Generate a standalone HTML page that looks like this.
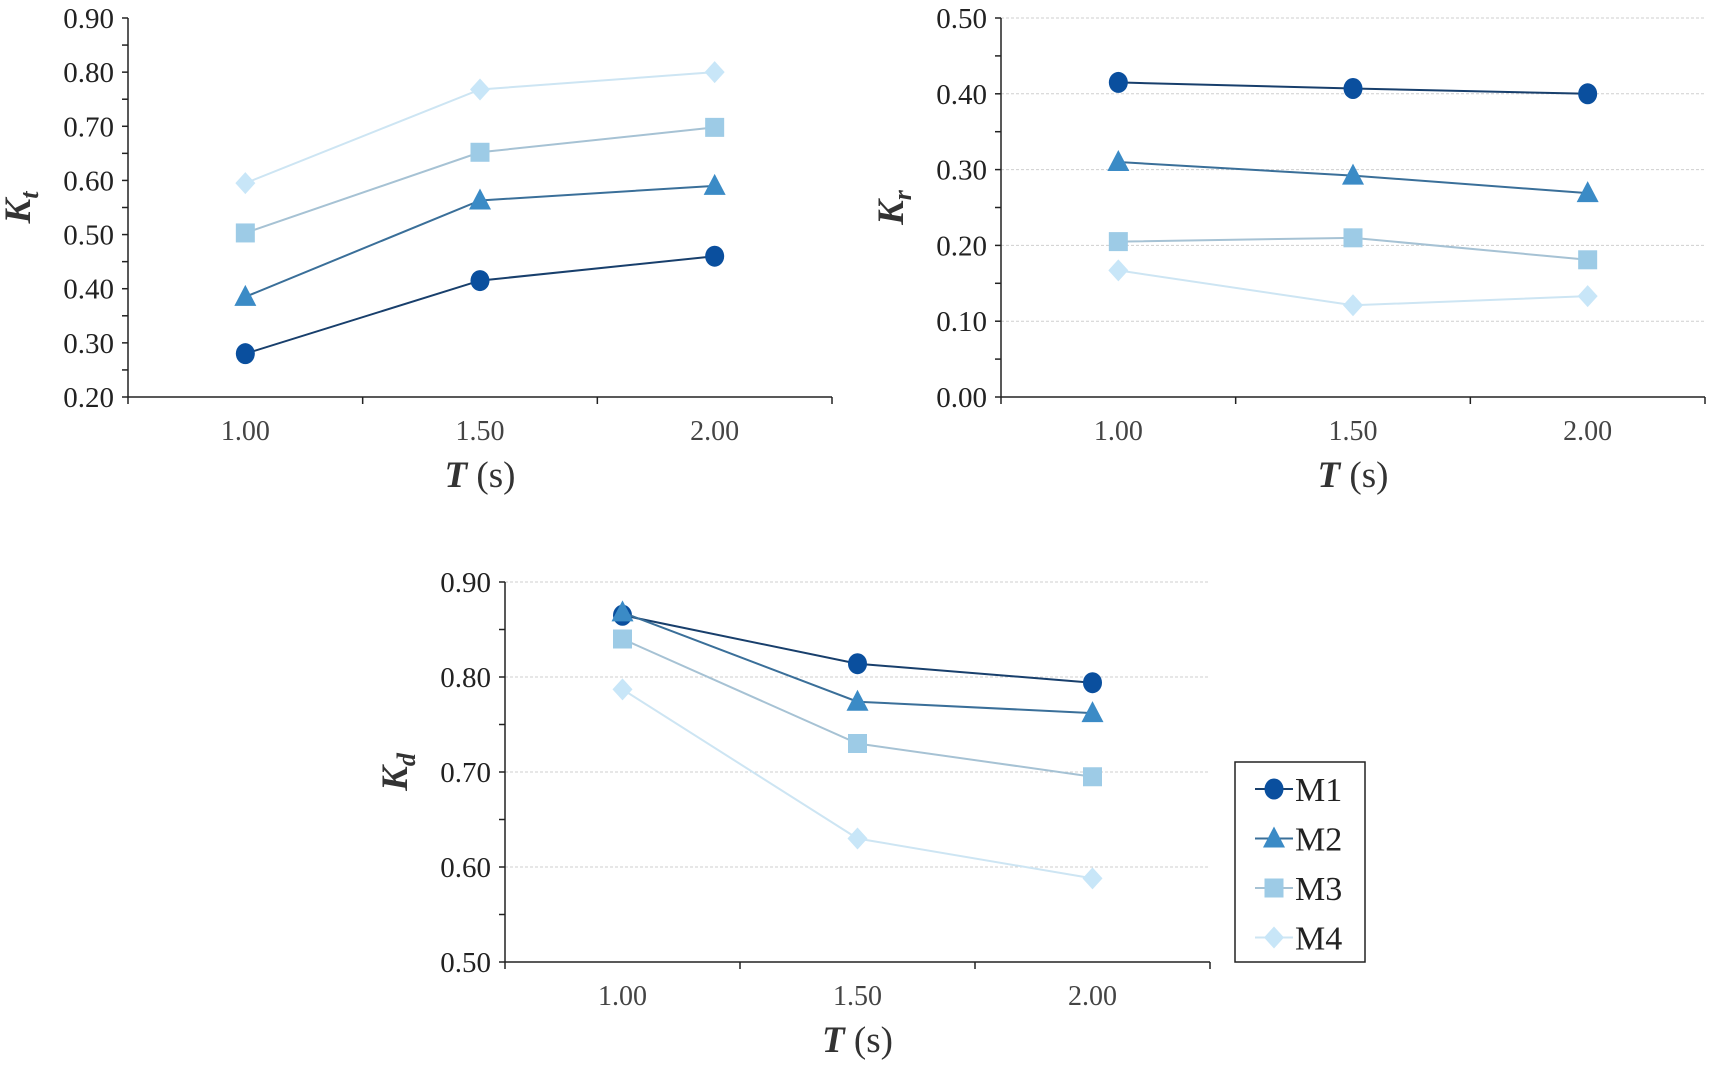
<!DOCTYPE html>
<html><head><meta charset="utf-8"><style>
html,body{margin:0;padding:0;background:#fff;width:1710px;height:1070px;overflow:hidden}
svg{display:block}
text{font-family:"Liberation Serif",serif}
</style></head><body>
<svg id="s" width="1710" height="1070" viewBox="0 0 1710 1070" xmlns="http://www.w3.org/2000/svg"></svg>
<script>
const categories=["1.00","1.50","2.00"];
const seriesNames=["M1","M2","M3","M4"];
const kt_M1=[0.28,0.415,0.46];
const kt_M2=[0.385,0.563,0.59];
const kt_M3=[0.503,0.652,0.698];
const kt_M4=[0.595,0.768,0.80];
const kr_M1=[0.415,0.407,0.40];
const kr_M2=[0.31,0.292,0.269];
const kr_M3=[0.205,0.21,0.181];
const kr_M4=[0.167,0.121,0.133];
const kd_M1=[0.865,0.814,0.794];
const kd_M2=[0.868,0.774,0.762];
const kd_M3=[0.84,0.73,0.695];
const kd_M4=[0.787,0.63,0.588];
const ktTicks=["0.20","0.30","0.40","0.50","0.60","0.70","0.80","0.90"];
const krTicks=["0.00","0.10","0.20","0.30","0.40","0.50"];
const kdTicks=["0.50","0.60","0.70","0.80","0.90"];

const NS="http://www.w3.org/2000/svg";
const svg=document.getElementById('s');
const mk=(tag,attrs,parent)=>{const e=document.createElementNS(NS,tag);for(const k in attrs)e.setAttribute(k,attrs[k]);(parent||svg).appendChild(e);return e;};
const markerCol=["#0a4f9e","#3b8bc6","#9dcbe6","#c8e6f8"];
const lineCol=["#183f6c","#3a6f99","#a6c2d4","#cde5f3"];
const shapes=["circle","triangle","square","diamond"];

function marker(g,shape,x,y,col){
  let e;
  if(shape==="circle")e=mk('ellipse',{cx:x,cy:y,rx:9.5,ry:10.5,fill:col},g);
  else if(shape==="triangle")e=mk('polygon',{points:`${x},${y-12} ${x+11},${y+9} ${x-11},${y+9}`,fill:col},g);
  else if(shape==="square")e=mk('rect',{x:x-9.5,y:y-9.5,width:19,height:19,fill:col},g);
  else e=mk('polygon',{points:`${x},${y-11} ${x+10},${y} ${x},${y+11} ${x-10},${y}`,fill:col},g);
  return e;
}

function chart(name,o,ticksArr,series,title,sub,grid){
  const g=mk('g',{});
  
  
  const min=parseFloat(ticksArr[0]),max=parseFloat(ticksArr[ticksArr.length-1]);
  const yS=v=>o.bottom-(v-min)/(max-min)*(o.bottom-o.top);
  const band=(o.right-o.left)/categories.length;
  const xS=i=>o.left+band*(i+0.5);
  if(grid){ticksArr.forEach((t,i)=>{if(i===0)return;const l=mk('line',{x1:o.left,x2:o.right,y1:yS(parseFloat(t)),y2:yS(parseFloat(t)),stroke:"#cfcfcf","stroke-width":1,"stroke-dasharray":"3,2"},g);
    
    });}
  const step=(parseFloat(ticksArr[1])-min)/2;
  for(let v=min;v<=max+1e-9;v+=step){mk('line',{x1:o.left-6,x2:o.left,y1:yS(v),y2:yS(v),stroke:"#222","stroke-width":1.5},g);}
  const ya=mk('line',{x1:o.left,x2:o.left,y1:o.top,y2:o.bottom,stroke:"#222","stroke-width":1.5},g);
  
  
  const xa=mk('line',{x1:o.left,x2:o.right,y1:o.bottom,y2:o.bottom,stroke:"#222","stroke-width":1.5},g);
  
  
  for(let i=0;i<=categories.length;i++)mk('line',{x1:o.left+band*i,x2:o.left+band*i,y1:o.bottom,y2:o.bottom+7,stroke:"#222","stroke-width":1.5},g);
  ticksArr.forEach(t=>{const e=mk('text',{x:o.left-14,y:yS(parseFloat(t))+10,"text-anchor":"end","font-size":29,fill:"#222"},g);e.textContent=t;
    
    });
  categories.forEach((c,i)=>{const e=mk('text',{x:xS(i),y:o.bottom+43,"text-anchor":"middle","font-size":28,fill:"#444"},g);e.textContent=c;
    
    });
  const xt=mk('text',{x:xS(1),y:o.bottom+90,"text-anchor":"middle","font-size":37,fill:"#333"},g);
  xt.innerHTML='<tspan font-weight="bold" font-style="italic">T</tspan> (s)';
  
  
  const cy=(o.top+o.bottom)/2;
  const yt=mk('text',{x:0,y:0,"text-anchor":"middle","font-size":37,"font-weight":"bold","font-style":"italic",fill:"#333",transform:`translate(${o.left-98},${cy}) rotate(-90)`},g);
  yt.innerHTML='K<tspan font-size="26" dy="8">'+sub+'</tspan>';
  
  
  series.forEach((vals,si)=>{
    const sg=mk('g',{},g);
    
    
    const pts=vals.map((v,i)=>xS(i)+','+yS(v)).join(' ');
    mk('polyline',{points:pts,fill:"none",stroke:lineCol[si],"stroke-width":2},sg);
    vals.forEach((v,i)=>{const m=marker(sg,shapes[si],xS(i),yS(v),markerCol[si]);
      
      });
  });
}
chart('kt-chart',{left:128,right:832,top:18,bottom:397},ktTicks,[kt_M1,kt_M2,kt_M3,kt_M4],'K','t',false);
chart('kr-chart',{left:1001,right:1705,top:18,bottom:397},krTicks,[kr_M1,kr_M2,kr_M3,kr_M4],'K','r',true);
chart('kd-chart',{left:505,right:1210,top:582,bottom:962},kdTicks,[kd_M1,kd_M2,kd_M3,kd_M4],'K','d',true);

const lg=mk('g',{});


mk('rect',{x:1235,y:762,width:130,height:200,fill:"#fff",stroke:"#222","stroke-width":1.5},lg);
seriesNames.forEach((n,i)=>{
  const y=789+i*49.5;
  const eg=mk('g',{},lg);
  
  
  mk('line',{x1:1255,x2:1293,y1:y,y2:y,stroke:lineCol[i],"stroke-width":2},eg);
  marker(eg,shapes[i],1274,y,markerCol[i]);
  const t=mk('text',{x:1295,y:y+12,"font-size":34,fill:"#222"},eg);t.textContent=n;
});
</script>
</body></html>
